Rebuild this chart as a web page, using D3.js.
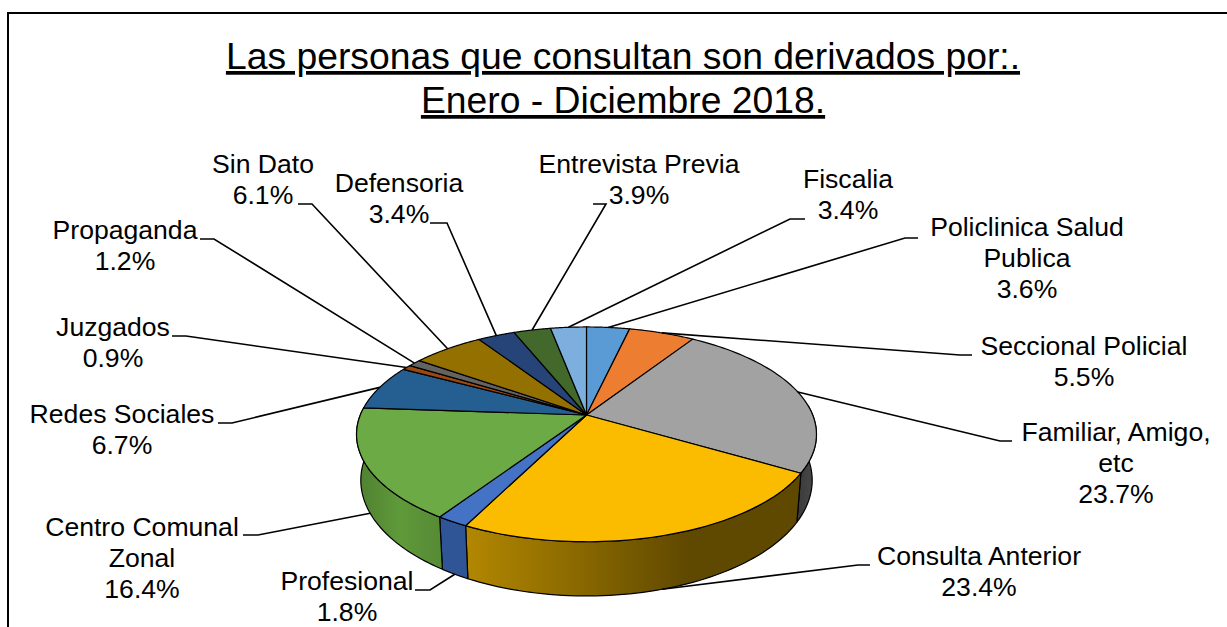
<!DOCTYPE html>
<html><head><meta charset="utf-8">
<script src="https://cdn.jsdelivr.net/npm/d3@7"></script>
<style>html,body{margin:0;padding:0;background:#fff;overflow:hidden}svg{display:block}
text{font-family:"Liberation Sans",Arial,sans-serif;fill:#000}</style></head>
<body><svg id="c" width="1227" height="627"></svg>
<script>
// Data, clockwise from 12 o'clock
const titleLines = ["Las personas que consultan son derivados por:.", "Enero - Diciembre 2018."];
const categories = [["Policlinica Salud","Publica"],["Seccional Policial"],["Familiar, Amigo,","etc"],["Consulta Anterior"],["Profesional"],["Centro Comunal","Zonal"],["Redes Sociales"],["Juzgados"],["Propaganda"],["Sin Dato"],["Defensoria"],["Entrevista Previa"],["Fiscalia"]];
const percentLabels = ["3.6%","5.5%","23.7%","23.4%","1.8%","16.4%","6.7%","0.9%","1.2%","6.1%","3.4%","3.9%","3.4%"];
// wedge sizes as they appear once the 3-D view has been undone
const wedgeShares = [3.6,5.5,24.4,23.9,1.9,16.8,6.8,0.8,1.1,6.0,3.1,3.1,3.0];
const topColors = ["#5B9BD5","#ED7D31","#A2A2A2","#FBBC00","#4472C4","#6CAA46","#255E91","#9E480E","#636363","#937000","#264478","#43682B","#7CAFDD"];
const wallStops = [null,null,["#3a3a3a","#4a4a4a"],["#b38700","#8a6900","#5f4800","#5f4800"],["#2f5597","#2f5597"],["#4f7f30","#5f9a3a","#568a35"],null,null,null,null,null,null,null];

// Layout (not data): text centre, first baseline, leader start, leader elbow
const labelLayout = [
 {x:1027,y:236,sx:918,ex:905,ly:238},
 {x:1084,y:355,sx:972,ex:960,ly:355},
 {x:1116,y:441,sx:1012,ex:1000,ly:441},
 {x:979,y:565,sx:870,ex:858,ly:565,wall:true},
 {x:347,y:590,sx:415,ex:430,ly:590,wall:true},
 {x:142,y:535.5,sx:243,ex:258,ly:535,wall:true},
 {x:122,y:423,sx:218,ex:232,ly:423},
 {x:113,y:336,sx:172,ex:186,ly:336},
 {x:125,y:239,sx:200,ex:214,ly:239},
 {x:263,y:173,sx:298,ex:312,ly:204},
 {x:399,y:192,sx:430,ex:447,ly:223},
 {x:639,y:173,sx:593,ex:606,ly:204},
 {x:848,y:188,sx:805,ex:790,ly:219}
];

const svg = d3.select("#c");
const W = 1227, H = 627;
// frame: the reference shows only the left and top edges
svg.append("path").attr("d",`M8,${H+2}V13H${W+2}`).attr("fill","none").attr("stroke","#000").attr("stroke-width",2);

// Perspective projection of the unit disc onto screen: top rim and bottom rim
const cx = 586.5;
const rim = (a,b,k,y0) => t => {
  const u=Math.sin(t), v=Math.cos(t), w=1+k*v;
  return [cx+a*u/w, y0-b*v/w];
};
const topRim = rim(226.2,103.9,0.1802,415);
const botRim = rim(222,111.9,0.18,459.5);

const pie = d3.pie().sort(null).value(d=>d)(wedgeShares);
const line = d3.line();
const arcPts = (f,a,b) => d3.range(0,61).map(i=>f(a+(b-a)*i/60));

const defs = svg.append("defs");
const wallG = svg.append("g"), topG = svg.append("g");
const visA = 85*Math.PI/180, visB = 275*Math.PI/180;

pie.forEach((p,i)=>{
  const a=Math.max(p.startAngle,visA), b=Math.min(p.endAngle,visB);
  if(a>=b || !wallStops[i]) return;
  const t=arcPts(topRim,a,b), m=arcPts(botRim,a,b);
  const xs=t.concat(m).map(d=>d[0]);
  const id="w"+i;
  const g=defs.append("linearGradient").attr("id",id).attr("gradientUnits","userSpaceOnUse")
    .attr("x1",d3.min(xs)).attr("x2",d3.max(xs)).attr("y1",0).attr("y2",0);
  wallStops[i].forEach((c,j,all)=>g.append("stop").attr("offset",j/(all.length-1)).attr("stop-color",c));
  wallG.append("path").attr("d",line(t.concat(m.reverse()))+"Z")
    .attr("fill",`url(#${id})`).attr("stroke","#000").attr("stroke-width",1.2).attr("stroke-linejoin","round");
});
pie.forEach((p,i)=>{
  const pts=[[cx,415]].concat(arcPts(topRim,p.startAngle,p.endAngle));
  topG.append("path").attr("d",line(pts)+"Z").attr("fill",topColors[i])
    .attr("stroke","#000").attr("stroke-width",1.2).attr("stroke-linejoin","round");
});

// leaders and labels
const lg=svg.append("g"), tg=svg.append("g");
pie.forEach((p,i)=>{
  const L=labelLayout[i], mid=(p.startAngle+p.endAngle)/2;
  const end=(L.wall?botRim:topRim)(mid);
  lg.append("path").attr("d",line([[L.sx,L.ly],[L.ex,L.ly],end]))
    .attr("fill","none").attr("stroke","#000").attr("stroke-width",1.6);
  const rows=categories[i].concat(percentLabels[i]);
  rows.forEach((r,j)=>tg.append("text").attr("x",L.x).attr("y",L.y+j*31)
    .attr("text-anchor","middle").attr("font-size",26.6).text(r));
});

// title
titleLines.forEach((t,i)=>svg.append("text").attr("x",623).attr("y",69+i*44)
  .attr("text-anchor","middle").attr("font-size",37.3).attr("text-decoration","underline").text(t));
</script></body></html>
